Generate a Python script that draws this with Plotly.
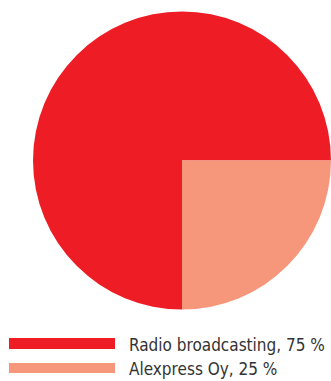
import plotly.graph_objects as go

# Ownership shares
labels = ["Radio broadcasting", "Alexpress Oy"]
shares = [75, 25]
colors = ["#EE1D25", "#F6967A"]

W, H = 331, 381

fig = go.Figure(
    go.Pie(
        labels=labels,
        values=shares,
        sort=False,
        direction="clockwise",
        rotation=180,
        marker=dict(colors=colors, line=dict(width=0)),
        textinfo="none",
        hoverinfo="label+percent",
        showlegend=False,
        domain=dict(x=[33 / W, 1.0], y=[1 - 310 / H, 1 - 11 / H]),
    )
)

# Legend drawn as long colour bars with text beside them
bar_rows = [(338, 349, 345), (363, 373, 369)]
shapes = []
annotations = []
for (top, bottom, mid), lab, val, col in zip(bar_rows, labels, shares, colors):
    shapes.append(
        dict(
            type="rect", xref="paper", yref="paper",
            x0=9 / W, x1=115 / W, y0=1 - bottom / H, y1=1 - top / H,
            fillcolor=col, line=dict(width=0),
        )
    )
    annotations.append(
        dict(
            xref="paper", yref="paper", x=127 / W, y=1 - mid / H,
            xanchor="left", yanchor="middle", showarrow=False,
            text=f"{lab}, {val} %",
            font=dict(family="DejaVu Sans Condensed, DejaVu Sans", size=17, color="#333333"),
        )
    )

fig.update_layout(
    width=W, height=H,
    margin=dict(l=0, r=0, t=0, b=0),
    paper_bgcolor="white", plot_bgcolor="white",
    shapes=shapes, annotations=annotations,
)

fig.write_html("out.html")
